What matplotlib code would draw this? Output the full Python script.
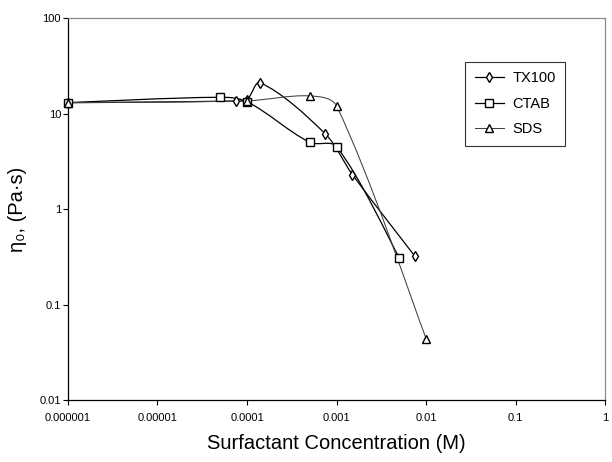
import numpy as np
import matplotlib
matplotlib.use('Agg')
import matplotlib.pyplot as plt
from matplotlib.path import Path
from matplotlib.patches import PathPatch
from matplotlib.lines import Line2D
from matplotlib.ticker import FixedLocator, FixedFormatter, NullLocator

# ---- data ----
series_names = ['TX100', 'CTAB', 'SDS']
tx100_conc = [1e-6, 7.5e-5, 1e-4, 1.4e-4, 7.5e-4, 1.5e-3, 7.5e-3]
tx100_eta = [13.0, 13.5, 14.0, 21.0, 6.1, 2.3, 0.32]
ctab_conc = [1e-6, 5e-5, 1e-4, 5e-4, 1e-3, 5e-3]
ctab_eta = [13.0, 14.8, 13.3, 5.0, 4.5, 0.31]
sds_conc = [1e-6, 1e-4, 5e-4, 1e-3, 1e-2]
sds_eta = [13.0, 13.6, 15.3, 12.0, 0.044]

x_ticks = [1e-6, 1e-5, 1e-4, 1e-3, 1e-2, 1e-1, 1]
x_tick_labels = ['0.000001', '0.00001', '0.0001', '0.001', '0.01', '0.1', '1']
y_ticks = [0.01, 0.1, 1, 10, 100]
y_tick_labels = ['0.01', '0.1', '1', '10', '100']

plt.rcParams['font.family'] = ['Liberation Sans', 'DejaVu Sans']


def smooth_path(xs, ys):
    """Smoothed line (Bezier segments, chord-weighted tangents) in log-log space."""
    P = np.column_stack([np.log10(xs), np.log10(ys)])
    n = len(P)
    d = np.hypot(*(P[1:] - P[:-1]).T)
    T = np.zeros_like(P)
    T[0] = P[1] - P[0]
    T[-1] = P[-1] - P[-2]
    for i in range(1, n - 1):
        T[i] = P[i + 1] - P[i - 1]
    verts = [P[0]]
    codes = [Path.MOVETO]
    for i in range(n - 1):
        if i == 0:
            f_out = 1.0 / 6.0
        else:
            f_out = d[i] / (d[i - 1] + d[i]) / 3.0
        if i + 1 == n - 1:
            f_in = 1.0 / 6.0
        else:
            f_in = d[i] / (d[i] + d[i + 1]) / 3.0
        c1 = P[i] + T[i] * f_out
        c2 = P[i + 1] - T[i + 1] * f_in
        verts += [c1, c2, P[i + 1]]
        codes += [Path.CURVE4] * 3
    return Path(10 ** np.array(verts), codes)


fig = plt.figure(figsize=(6.12, 4.62), dpi=100)
ax = fig.add_axes([0.111, 0.134, 0.878, 0.827])
ax.set_xscale('log')
ax.set_yscale('log')
ax.set_xlim(1e-6, 1)
ax.set_ylim(0.01, 100)

styles = [
    (tx100_conc, tx100_eta, 'd', 5.5, 'black', 0.9),
    (ctab_conc, ctab_eta, 's', 5.3, 'black', 0.9),
    (sds_conc, sds_eta, '^', 5.3, '#404040', 0.75),
]
handles = []
for (xs, ys, mk, ms, col, lw), name in zip(styles, series_names):
    ax.add_patch(PathPatch(smooth_path(xs, ys), fill=False, edgecolor=col,
                           linewidth=lw, zorder=2))
    ax.plot(xs, ys, linestyle='none', marker=mk, markersize=ms,
            markerfacecolor='white', markeredgecolor='black',
            markeredgewidth=1.0, zorder=3, clip_on=False)
    handles.append(Line2D([], [], color=col, lw=lw, marker=mk, markersize=ms,
                          markerfacecolor='white', markeredgecolor='black',
                          markeredgewidth=1.0))

ax.xaxis.set_major_locator(FixedLocator(x_ticks))
ax.xaxis.set_major_formatter(FixedFormatter(x_tick_labels))
ax.xaxis.set_minor_locator(NullLocator())
ax.yaxis.set_major_locator(FixedLocator(y_ticks))
ax.yaxis.set_major_formatter(FixedFormatter(y_tick_labels))
ax.yaxis.set_minor_locator(NullLocator())
ax.tick_params(axis='both', direction='out', length=3.5, width=0.8,
               labelsize=8, color='black')
ax.tick_params(axis='x', pad=6)
ax.tick_params(axis='y', pad=1.5)

for s in ['left', 'bottom']:
    ax.spines[s].set_color('black')
    ax.spines[s].set_linewidth(0.9)
for s in ['top', 'right']:
    ax.spines[s].set_color('#8a8a8a')
    ax.spines[s].set_linewidth(0.9)

ax.set_xlabel('Surfactant Concentration (M)', fontsize=14.5, labelpad=8)
ax.set_ylabel('η₀, (Pa·s)', fontsize=14.5, labelpad=9)

leg = ax.legend(handles, series_names, loc='upper left',
                bbox_to_anchor=(0.739, 0.885), fontsize=10.5, frameon=True,
                fancybox=False, shadow=False, handlelength=2.0,
                handletextpad=0.6, labelspacing=0.78, borderpad=0.65,
                borderaxespad=0.0)
leg.get_frame().set_edgecolor('black')
leg.get_frame().set_linewidth(0.8)

fig.savefig('out.png', dpi=100)
